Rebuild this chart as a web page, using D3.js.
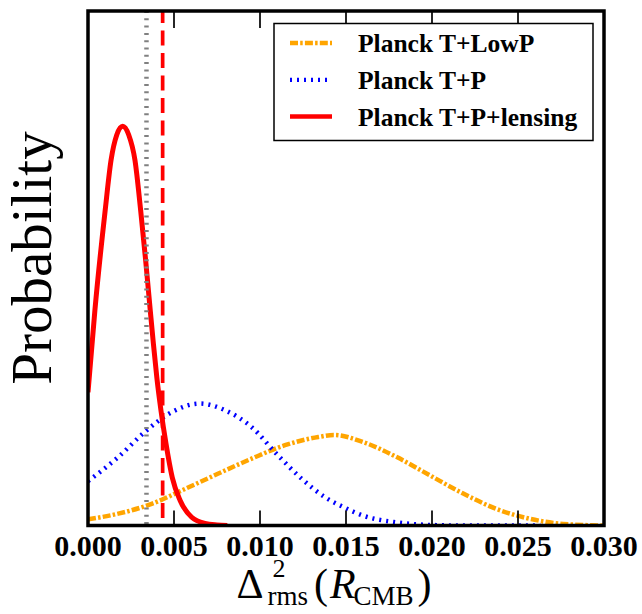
<!DOCTYPE html>
<html>
<head>
<meta charset="utf-8">
<script src="https://cdn.jsdelivr.net/npm/d3@7"></script>
<style>
body { margin: 0; background: #fff; }
svg { display: block; }
</style>
</head>
<body>
<div class="plot"></div>
<script>
// data (y in arbitrary probability units)
const xTicks = [0, 0.005, 0.010, 0.015, 0.020, 0.025, 0.030];

const lowPX = [0, 0.00176, 0.0037, 0.00564, 0.00758, 0.00952, 0.01145, 0.01339, 0.0143, 0.01601, 0.01795, 0.0199, 0.02182, 0.02376, 0.0257, 0.02763, 0.03];
const lowPY = [0.012, 0.023, 0.042, 0.071, 0.101, 0.130, 0.156, 0.172, 0.176, 0.162, 0.133, 0.097, 0.062, 0.032, 0.013, 0.003, 0.0];

const tpX = [0, 0.00176, 0.00331, 0.00496, 0.00651, 0.00797, 0.00952, 0.01097, 0.01242, 0.01378, 0.01484, 0.01601, 0.01795, 0.0199, 0.022, 0.0263];
const tpY = [0.086, 0.133, 0.182, 0.222, 0.237, 0.224, 0.191, 0.139, 0.091, 0.055, 0.036, 0.019, 0.006, 0.001, 0, 0];

const lensX = [0, 0.0004, 0.001, 0.00134, 0.00167, 0.00202, 0.00237, 0.00273, 0.00306, 0.00335, 0.00362, 0.0038, 0.004, 0.00424, 0.00453, 0.0049, 0.00535, 0.00603, 0.0068, 0.0075, 0.0081];
const lensY = [0.259, 0.418, 0.613, 0.71, 0.759, 0.776, 0.759, 0.71, 0.613, 0.516, 0.418, 0.354, 0.288, 0.224, 0.16, 0.093, 0.049, 0.016, 0.004, 0.001, 0.0];

const grayLineX = 0.0034;
const redLineX = 0.00434;

const labels = ['Planck T+LowP', 'Planck T+P', 'Planck T+P+lensing'];

//layout
const W = 642, H = 614;
const pLeft = 88, pRight = 604, pTop = 11, pBottom = 525.5;
const serif = '"Liberation Serif", "Times New Roman", serif';

const svg = d3.select('.plot').append('svg')
	.attr('width', W)
	.attr('height', H);

const x = d3.scaleLinear().domain([0, 0.03]).range([pLeft, pRight]);
const y = d3.scaleLinear().domain([0, 1]).range([pBottom, pTop]);

svg.append('clipPath').attr('id', 'clip')
	.append('rect')
	.attr('x', pLeft).attr('y', pTop)
	.attr('width', pRight - pLeft).attr('height', pBottom - pTop);

const plot = svg.append('g').attr('clip-path', 'url(#clip)');

const line = d3.line()
	.x(function(d){return x(d[0])})
	.y(function(d){return y(d[1])})
	.curve(d3.curveMonotoneX);

const series = [
	{pts: d3.zip(lowPX, lowPY), color: '#ffa500', width: 4.5, dash: '8,2.2,2.5,2.2'},
	{pts: d3.zip(tpX, tpY), color: '#0000ff', width: 4.5, dash: '2,5'},
	{pts: d3.zip(lensX, lensY), color: '#ff0000', width: 5, dash: null}
];

series.forEach(function(s){
	plot.append('path')
		.attr('d', line(s.pts))
		.style('fill', 'none')
		.style('stroke', s.color)
		.style('stroke-width', s.width)
		.style('stroke-dasharray', s.dash);
});

//vertical markers
plot.append('line')
	.attr('x1', x(grayLineX)).attr('x2', x(grayLineX))
	.attr('y1', pTop).attr('y2', pBottom)
	.style('stroke', '#808080')
	.style('stroke-width', 4.5)
	.style('stroke-dasharray', '2,5.3');
plot.append('line')
	.attr('x1', x(redLineX)).attr('x2', x(redLineX))
	.attr('y1', pTop - 3).attr('y2', pBottom)
	.style('stroke', '#ff0000')
	.style('stroke-width', 3.7)
	.style('stroke-dasharray', '15,7.5');

//ticks, inside, top and bottom
const tickG = svg.append('g');
xTicks.forEach(function(t){
	tickG.append('line')
		.attr('x1', x(t)).attr('x2', x(t))
		.attr('y1', pBottom).attr('y2', pBottom - 15)
		.style('stroke', '#000').style('stroke-width', 1.7);
	tickG.append('line')
		.attr('x1', x(t)).attr('x2', x(t))
		.attr('y1', pTop).attr('y2', pTop + 17)
		.style('stroke', '#000').style('stroke-width', 1.7);
});

svg.append('g').selectAll('text')
	.data(xTicks)
	.join('text')
	.attr('x', function(d){return x(d)})
	.attr('y', 556)
	.attr('text-anchor', 'middle')
	.style('font-family', serif)
	.style('font-weight', 'bold')
	.style('font-size', '30px')
	.text(function(d){return d3.format('.3f')(d)});

//frame
svg.append('rect')
	.attr('x', pLeft).attr('y', pTop)
	.attr('width', pRight - pLeft).attr('height', pBottom - pTop)
	.style('fill', 'none')
	.style('stroke', '#000')
	.style('stroke-width', 3.5);

//legend
const leg = svg.append('g');
leg.append('rect')
	.attr('x', 274).attr('y', 23.5)
	.attr('width', 319).attr('height', 117)
	.style('fill', '#fff')
	.style('stroke', '#000')
	.style('stroke-width', 1.5);
labels.forEach(function(l, i){
	const ry = 43 + i * 36.8;
	leg.append('line')
		.attr('x1', 290).attr('x2', 332)
		.attr('y1', ry).attr('y2', ry)
		.style('stroke', series[i].color)
		.style('stroke-width', i === 2 ? 4.5 : 4.3)
		.style('stroke-dasharray', series[i].dash);
	leg.append('text')
		.attr('x', 358).attr('y', ry + 9)
		.style('font-family', serif)
		.style('font-weight', 'bold')
		.style('font-size', '25.5px')
		.text(l);
});

//y label
svg.append('text')
	.attr('transform', 'translate(51,258) rotate(-90)')
	.attr('text-anchor', 'middle')
	.style('font-family', serif)
	.style('font-size', '57px')
	.text('Probability');

//x label, math style pieces
const xl = svg.append('g');
function piece(txt, size, dy, italic){
	return xl.append('text')
		.attr('y', 598 + dy)
		.style('font-family', serif)
		.style('font-size', size + 'px')
		.style('font-style', italic ? 'italic' : 'normal')
		.text(txt);
}
let cx = 0;
const delta = piece('\u0394', 42, 0).attr('x', cx);
cx += delta.node().getComputedTextLength() + 4;
piece('2', 26, -21).attr('x', cx + 5);
const rms = piece('rms', 27, 7).attr('x', cx);
cx += rms.node().getComputedTextLength() + 6;
const lp = piece('(', 42, 0).attr('x', cx);
cx += lp.node().getComputedTextLength() + 2;
const R = piece('R', 42, 0, true).attr('x', cx);
cx += R.node().getComputedTextLength() - 2;
const cmb = piece('CMB', 27, 7).attr('x', cx);
cx += cmb.node().getComputedTextLength() + 4;
const rp = piece(')', 42, 0).attr('x', cx);
cx += rp.node().getComputedTextLength();
xl.attr('transform', 'translate(' + (334 - cx / 2) + ',0)');
</script>
</body>
</html>
